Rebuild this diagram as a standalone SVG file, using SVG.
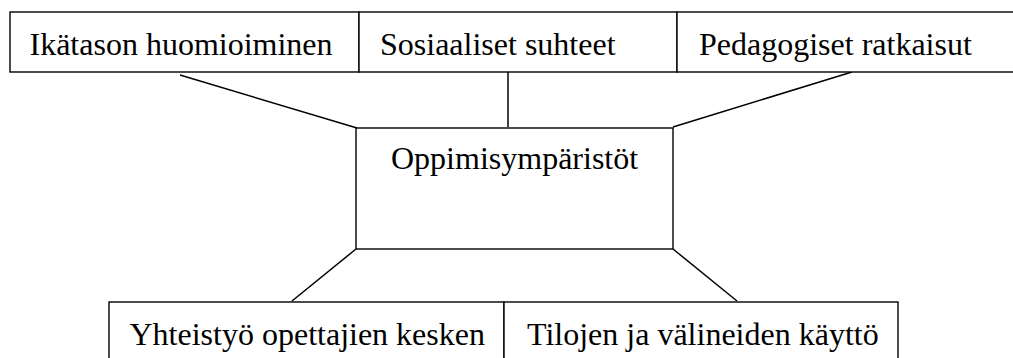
<svg xmlns="http://www.w3.org/2000/svg" width="1013" height="358" viewBox="0 0 1013 358">
<style>
.box{fill:#fff;stroke:#000;stroke-width:1.4}
.lbl{font-family:"Liberation Serif","Times New Roman",serif;font-size:32px;fill:#000}
.con{stroke:#000;stroke-width:1.5;fill:none}
</style>
<rect width="1013" height="358" fill="#fff"/>
<g id="connectors">
<line class="con" x1="180" y1="75" x2="357" y2="128"/>
<line class="con" x1="508" y1="72" x2="508" y2="127"/>
<line class="con" x1="852" y1="72" x2="673" y2="127"/>
<line class="con" x1="356" y1="249" x2="292" y2="301"/>
<line class="con" x1="673" y1="249" x2="737" y2="301"/>
</g>
<g id="n1"><rect class="box" x="10" y="12" width="349" height="60"/><text class="lbl" x="29.5" y="55">Ikätason huomioiminen</text></g>
<g id="n2"><rect class="box" x="359" y="12" width="318" height="60"/><text class="lbl" x="380" y="55">Sosiaaliset suhteet</text></g>
<g id="n3"><rect class="box" x="677" y="12" width="340" height="60"/><text class="lbl" x="699" y="55">Pedagogiset ratkaisut</text></g>
<g id="n4"><rect class="box" x="356" y="128" width="317" height="121"/><text class="lbl" x="391" y="169">Oppimisympäristöt</text></g>
<g id="n5"><rect class="box" x="109" y="302" width="395" height="70"/><text class="lbl" x="129.5" y="345">Yhteistyö opettajien kesken</text></g>
<g id="n6"><rect class="box" x="504" y="302" width="394" height="70"/><text class="lbl" x="527" y="345">Tilojen ja välineiden käyttö</text></g>
</svg>
